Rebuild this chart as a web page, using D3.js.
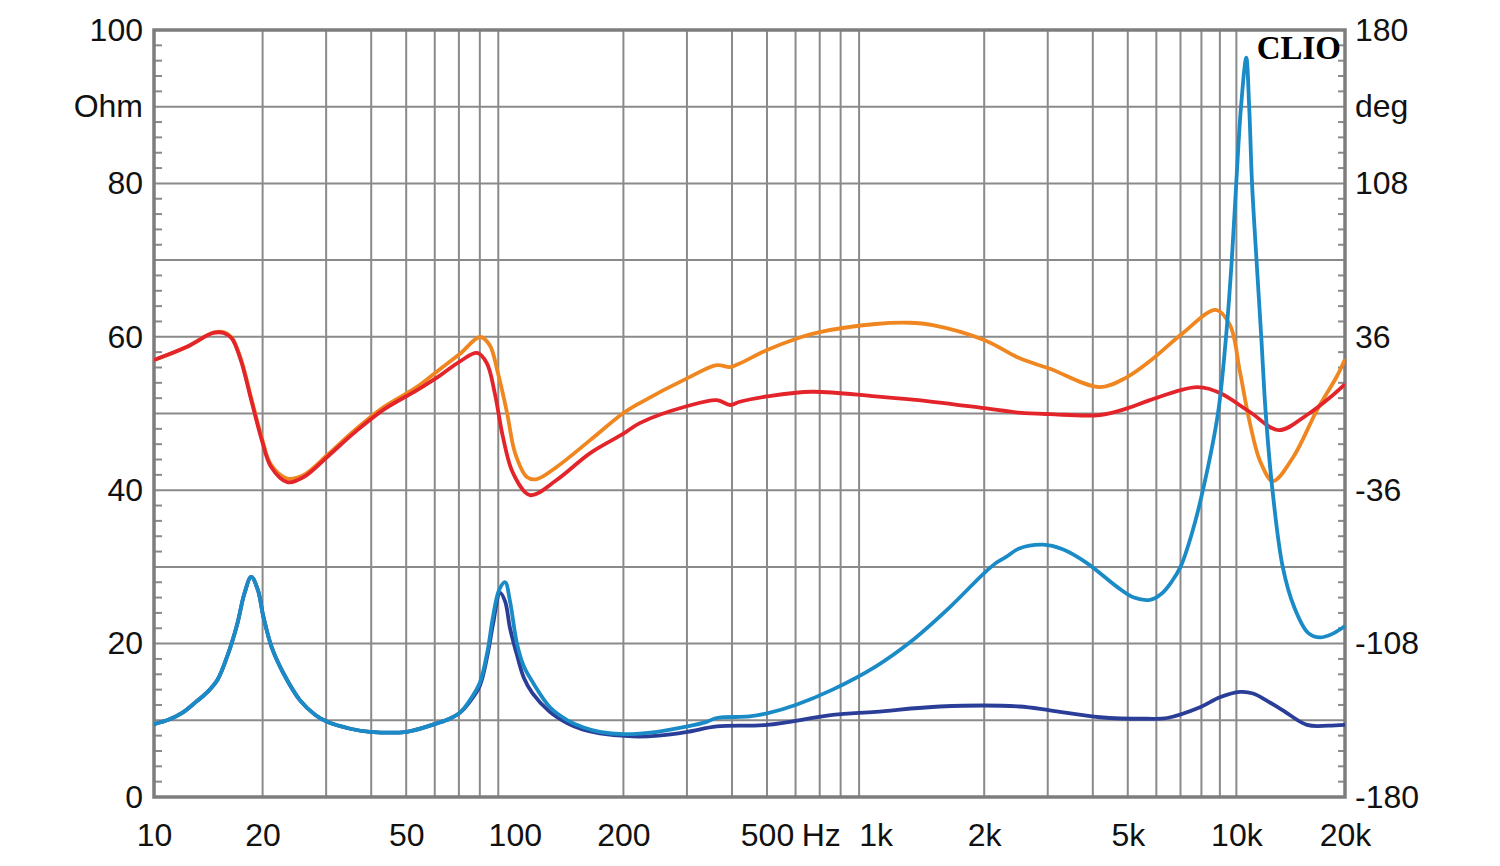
<!DOCTYPE html>
<html>
<head>
<meta charset="utf-8">
<script src="https://cdn.jsdelivr.net/npm/d3@7"></script>
<style>
  body { margin: 0; background: #fff; }
  text { font-family: "Liberation Sans", Arial, sans-serif; fill: #111; }
</style>
</head>
<body>
<div id="chart"></div>
<script>
// ---- data ----
// impedance, driver 1 (dark blue), Ohm
var z1Freq = [10, 11, 12, 13, 14, 15, 16, 17, 17.8, 18.6, 19.4, 20.1, 21.2, 22.8, 25.4, 28, 30.2, 35, 39.7, 50.2, 60.8, 66, 70.5, 75, 80, 84, 87, 91, 94, 97, 101.4, 106, 112, 125, 140, 154, 172, 212, 250, 301, 363, 500, 760, 1000, 1510, 2500, 3043, 4188, 5650, 6425, 7930, 9000, 10233, 11120, 12200, 13450, 15700, 18000, 20000];
var z1Ohm  = [9.5, 10.1, 11, 12.3, 13.6, 15.3, 18.5, 22.5, 26.5, 28.7, 27, 23.5, 19.5, 16.2, 12.6, 10.7, 9.8, 8.9, 8.5, 8.5, 9.6, 10.2, 11, 12.4, 14.5, 18.5, 22.5, 26.6, 25.5, 22, 18.5, 15.5, 13.5, 11.1, 9.6, 8.8, 8.3, 7.9, 8.0, 8.5, 9.2, 9.4, 10.7, 11.1, 11.8, 11.8, 11.3, 10.4, 10.2, 10.3, 11.7, 13.0, 13.7, 13.5, 12.5, 11.3, 9.4, 9.3, 9.4];

// impedance, driver 2 (light blue), Ohm
var z2Freq = [10, 11, 12, 13, 14, 15, 16, 17, 17.8, 18.6, 19.4, 20.1, 21.2, 22.8, 25.4, 28, 30.2, 35, 39.7, 50.2, 60.8, 66, 70.5, 75, 80, 84, 87, 90.5, 94, 97, 101.4, 106, 112.3, 125.2, 140, 154.5, 172, 200, 248, 301, 340, 363, 447, 500, 600, 760, 1000, 1240, 1610, 2000, 2170, 2300, 2500, 2911, 3300, 3853, 4669, 5200, 5760, 6200, 6600, 7000, 7520, 8076, 8890, 9360, 9710, 9990, 10300, 10650, 10850, 11050, 11370, 11720, 12060, 12590, 13440, 14450, 15800, 17060, 18500, 20000];
var z2Ohm  = [9.5, 10.1, 11, 12.3, 13.6, 15.3, 18.5, 22.5, 26.5, 28.7, 27, 23.5, 19.5, 16.2, 12.6, 10.7, 9.8, 8.9, 8.5, 8.5, 9.6, 10.2, 11, 12.6, 14.9, 19, 23.5, 27, 28, 25.5, 20, 17, 14.9, 11.7, 10, 9.1, 8.5, 8.2, 8.5, 9.2, 9.8, 10.3, 10.5, 10.9, 12, 14, 17, 20.1, 24.8, 29.2, 30.6, 31.3, 32.4, 32.9, 32.3, 30.5, 27.4, 26, 25.7, 26.5, 28, 30, 34.3, 40, 50, 60, 70, 80, 90, 96.4, 90, 80, 70, 60, 50, 40, 30, 24.8, 21.4, 20.8, 21.3, 22.3];

// phase, driver 1 (red), deg
var p1Freq = [10, 12.3, 14.6, 15.6, 16.4, 17.4, 18.6, 19.9, 21.1, 23.4, 26, 30.2, 35.8, 43.1, 53.6, 62, 70.5, 78.6, 83.6, 88, 92.7, 98.9, 110.2, 130.6, 161.8, 200, 222, 301, 363, 395, 420, 500, 667, 1000, 1440, 2000, 2500, 3043, 4188, 5000, 5760, 7780, 9000, 10900, 13100, 15680, 18170, 20000];
var p1Deg  = [25.1, 31.2, 37.8, 37.8, 35.4, 25.1, 6.3, -12.5, -25, -32.2, -29.8, -20.4, -9.2, 1.6, 11, 17.8, 24.5, 28.4, 23.7, 9.6, -11, -28, -38.3, -31.2, -18.6, -9.5, -4.5, 3.5, 6.3, 4, 5.5, 8, 10.2, 8, 5.5, 2.5, 0.4, -0.3, -0.7, 2.5, 6.3, 12.4, 9.6, 0.7, -7.8, -0.7, 7.5, 13.8];

// phase, driver 2 (orange), deg
var p2Freq = [10, 12.3, 14.6, 15.6, 16.4, 17.4, 18.6, 19.9, 21.1, 23.4, 26, 30.2, 35.8, 43.1, 53.6, 62, 70.5, 80.1, 85.2, 89.8, 95.2, 100.2, 108, 115, 130.6, 161.8, 200, 222, 301, 363, 395, 420, 500, 600, 700, 1000, 1240, 1440, 2000, 2500, 3043, 4188, 4977, 5760, 7113, 8770, 9600, 10230, 10900, 11660, 12630, 14380, 16730, 19010, 20000];
var p2Deg  = [25.1, 31.2, 38, 38.2, 35.8, 25.8, 7.2, -11.5, -24, -30.5, -28.8, -19.5, -8.2, 2.8, 12.5, 20.8, 28, 35.9, 32.1, 19, 0.2, -18.6, -29.8, -30.8, -25.1, -12.5, 0.2, 4.9, 16.6, 22.7, 21.8, 23.5, 29.8, 35, 38.2, 42, 42.6, 41.5, 34.5, 26, 21, 12.4, 17.1, 24.6, 37.8, 48.6, 41.5, 19.5, -4.5, -22.8, -31.7, -20.4, 1.6, 17.6, 25.5];

var xTicks = [10, 20, 50, 100, 200, 500, 1000, 2000, 5000, 10000, 20000];
var ohmTicks = [0, 20, 40, 60, 80, 100];
var degTicks = [-180, -108, -36, 36, 108, 180];

// ---- layout ----
var width = 1500, height = 866;
var plotL = 154, plotR = 1345, plotT = 30, plotB = 797;

var svg = d3.select("#chart").append("svg")
  .attr("width", width)
  .attr("height", height);

var x = d3.scaleLog().domain([10, 20000]).range([plotL, plotR]);
var yOhm = d3.scaleLinear().domain([0, 100]).range([plotB, plotT]);
var yDeg = d3.scaleLinear().domain([-180, 180]).range([plotB, plotT]);

// grid lines
var vGrid = [];
[10, 100, 1000].forEach(function(dec) {
  for (var k = 2; k <= 9; k++) vGrid.push(dec * k);
});
vGrid.push(10000);

svg.append("g").selectAll("line")
  .data(vGrid)
  .enter().append("line")
  .attr("x1", d => x(d)).attr("x2", d => x(d))
  .attr("y1", plotT).attr("y2", plotB)
  .style("stroke", "#8a8a8a")
  .style("stroke-width", 2);

svg.append("g").selectAll("line")
  .data(d3.range(10, 100, 10))
  .enter().append("line")
  .attr("x1", plotL).attr("x2", plotR)
  .attr("y1", d => yOhm(d)).attr("y2", d => yOhm(d))
  .style("stroke", "#8a8a8a")
  .style("stroke-width", 2);

// minor ticks, every 2 Ohm
var minor = d3.range(2, 100, 2).filter(d => d % 10 != 0);
svg.append("g").selectAll("line")
  .data(minor)
  .enter().append("line")
  .attr("x1", plotL).attr("x2", plotL + 8)
  .attr("y1", d => yOhm(d)).attr("y2", d => yOhm(d))
  .style("stroke", "#8a8a8a").style("stroke-width", 2);
svg.append("g").selectAll("line")
  .data(minor)
  .enter().append("line")
  .attr("x1", plotR - 7).attr("x2", plotR)
  .attr("y1", d => yOhm(d)).attr("y2", d => yOhm(d))
  .style("stroke", "#8a8a8a").style("stroke-width", 2);

// frame
svg.append("rect")
  .attr("x", plotL).attr("y", plotT)
  .attr("width", plotR - plotL).attr("height", plotB - plotT)
  .style("fill", "none")
  .style("stroke", "#7d7d7d")
  .style("stroke-width", 3.5);

// curves
svg.append("clipPath").attr("id", "clip")
  .append("rect")
  .attr("x", plotL).attr("y", plotT)
  .attr("width", plotR - plotL).attr("height", plotB - plotT);

function drawCurve(freqs, vals, yScale, colour) {
  var pts = freqs.map((f, i) => [f, vals[i]]);
  var line = d3.line()
    .x(d => x(d[0]))
    .y(d => yScale(d[1]))
    .curve(d3.curveCatmullRom.alpha(0.5));
  svg.append("path")
    .datum(pts)
    .attr("d", line)
    .attr("clip-path", "url(#clip)")
    .style("fill", "none")
    .style("stroke", colour)
    .style("stroke-width", 3.8)
    .style("stroke-linejoin", "round");
}

drawCurve(p2Freq, p2Deg, yDeg, "#f0861f");
drawCurve(p1Freq, p1Deg, yDeg, "#e3242b");
drawCurve(z1Freq, z1Ohm, yOhm, "#2a3e98");
drawCurve(z2Freq, z2Ohm, yOhm, "#1a8bc7");

// axes (labels only)
var fs = "32px";

var leftAxis = svg.append("g")
  .attr("transform", "translate(" + plotL + ",0)")
  .call(d3.axisLeft(yOhm).tickValues(ohmTicks).tickSize(0).tickPadding(11));
var rightAxis = svg.append("g")
  .attr("transform", "translate(" + plotR + ",0)")
  .call(d3.axisRight(yDeg).tickValues(degTicks).tickSize(0).tickPadding(10).tickFormat(d => String(d)));

function kfmt(d) { return d >= 1000 ? (d / 1000) + "k" : d; }
var bottomAxis = svg.append("g")
  .attr("transform", "translate(0," + plotB + ")")
  .call(d3.axisBottom(x).tickValues(xTicks).tickSize(0).tickPadding(26).tickFormat(kfmt));

[leftAxis, rightAxis, bottomAxis].forEach(function(g) {
  g.select(".domain").remove();
  g.selectAll("text")
    .style("font-size", fs)
    .style("font-family", "'Liberation Sans', Arial, sans-serif")
    .attr("fill", "#111");
});

svg.append("text")
  .attr("x", plotL - 11).attr("y", yOhm(90))
  .attr("dy", "0.32em")
  .attr("text-anchor", "end")
  .style("font-size", fs)
  .text("Ohm");

svg.append("text")
  .attr("x", plotR + 10).attr("y", yDeg(144))
  .attr("dy", "0.32em")
  .style("font-size", fs)
  .text("deg");

svg.append("text")
  .attr("x", x(Math.sqrt(500 * 1000)))
  .attr("y", plotB + 26)
  .attr("dy", "0.71em")
  .attr("text-anchor", "middle")
  .style("font-size", fs)
  .text("Hz");

// CLIO mark
svg.append("text")
  .attr("x", plotR - 4).attr("y", 59)
  .attr("text-anchor", "end")
  .style("font-family", "'Liberation Serif', 'DejaVu Serif', serif")
  .style("font-weight", "bold")
  .style("font-size", "33px")
  .style("fill", "#000")
  .text("CLIO");
</script>
</body>
</html>
